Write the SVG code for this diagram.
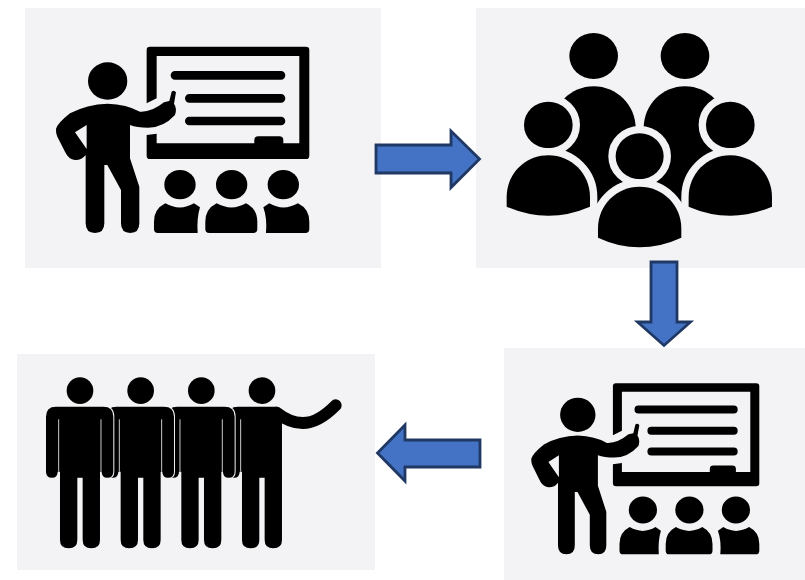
<svg xmlns="http://www.w3.org/2000/svg" xmlns:xlink="http://www.w3.org/1999/xlink" width="805" height="580" viewBox="0 0 805 580">
<style>
.panel{fill:#f3f3f5}
.ink{fill:#000}
.rule{stroke:#000;stroke-width:26;stroke-linecap:round;fill:none}
.halo{fill:#000;stroke:#f3f3f5;stroke-width:44;paint-order:stroke;stroke-linejoin:round}
.fig{fill:#000;stroke:#f3f3f5;stroke-width:6;paint-order:stroke}
.gap{stroke:#f3f3f5;stroke-width:2.5;fill:none}
.arrow{fill:#4472c4;stroke:#1f3864;stroke-width:2.8;stroke-linejoin:miter}
</style>
<defs>
<g id="teacher">
<path class="ink" d="M390 125H858Q868 125 868 135V452Q868 462 858 462H390Q380 462 380 452V390L410 386V415H703V405Q703 394 715 394H778Q790 394 790 405V415H838V153H410V280L380 295V135Q380 125 390 125Z"/>
<path class="rule" d="M465 211H783M508 280H783M508 348H783"/>
<ellipse class="ink" cx="263" cy="228" rx="59" ry="56"/>
<path class="ink" fill-rule="evenodd" d="M108 372Q112 355 150 325Q200 298 263 296Q320 298 360 320Q395 322 432 292L448 288L455 260Q462 254 468 262L462 296Q472 310 465 330Q430 368 385 368Q350 368 330 360V460L358 545V655Q358 684 331 684Q303 684 303 655V555L262 480H253V655Q253 684 225 684Q197 684 197 655V450Q185 466 165 465Q145 462 135 440L112 395Q107 383 108 372ZM200 360L165 382L200 432Z"/>
<ellipse class="ink" cx="480" cy="539" rx="47" ry="44"/>
<ellipse class="ink" cx="635" cy="539" rx="47" ry="44"/>
<ellipse class="ink" cx="790" cy="539" rx="47" ry="44"/>
<path class="ink" d="M402 672V650Q402 612 436 595Q480 620 522 595L540 607Q530 640 533 684H414Q402 684 402 672Z"/>
<path class="ink" d="M556 672V650Q556 612 590 595Q635 620 678 595Q712 612 712 650V672Q712 684 700 684H568Q556 684 556 672Z"/>
<path class="ink" d="M730 607L748 595Q790 620 834 595Q868 612 868 650V672Q868 684 856 684H738Q742 640 730 607Z"/>
</g>
<path id="dude" d="M138 170H280Q310 170 310 200V365Q310 383 292 383Q275 383 275 365H270V570Q270 595 244 595Q218 595 218 570V383H202V570Q202 595 176 595Q150 595 150 570V365H143Q143 383 126 383Q108 383 108 365V200Q108 170 138 170Z"/>
</defs>
<g id="node-lecture">
<rect class="panel" x="25" y="8" width="356" height="260"/>
<use xlink:href="#teacher" href="#teacher" transform="translate(20 5) scale(.3333)"/>
</g>
<g id="node-group">
<rect class="panel" x="476" y="8" width="329" height="260"/>
<g transform="translate(470 5) scale(.3333)">
<ellipse class="ink" cx="371" cy="153" rx="73" ry="69"/>
<ellipse class="ink" cx="645" cy="153" rx="73" ry="69"/>
<path class="ink" d="M246 600V370C246 300 302 244 371 244C440 244 497 300 497 370V600Z"/>
<path class="ink" d="M521 600V370C521 300 576 244 645 244C714 244 770 300 770 370V600Z"/>
<ellipse class="halo" cx="235" cy="360" rx="73" ry="70"/>
<ellipse class="halo" cx="781" cy="360" rx="73" ry="70"/>
<path class="halo" d="M110 605V576C110 506 166 451 235 451C304 451 360 506 360 576V605Q235 659 110 605Z"/>
<path class="halo" d="M656 605V576C656 506 712 451 781 451C850 451 906 506 906 576V605Q781 659 656 605Z"/>
<ellipse class="halo" cx="509" cy="454" rx="72" ry="69"/>
<path class="halo" d="M384 698V670C384 600 440 545 509 545C578 545 634 600 634 670V698Q508 756 384 698Z"/>
</g>
</g>
<g id="node-lecture-2">
<rect class="panel" x="504" y="348" width="301" height="232"/>
<use xlink:href="#teacher" href="#teacher" transform="translate(498.9 345) scale(.3 .306)"/>
</g>
<g id="node-team">
<rect class="panel" x="17" y="354" width="358" height="216"/>
<g transform="translate(10 350) scale(.3333)">
<circle class="ink" cx="210" cy="122" r="40"/>
<circle class="ink" cx="392" cy="122" r="40"/>
<circle class="ink" cx="574" cy="122" r="40"/>
<circle class="ink" cx="756" cy="122" r="40"/>
<path d="M800 188Q840 219 878 219Q925 219 977 166" fill="none" stroke="#000" stroke-width="36" stroke-linecap="round"/>
<path class="ink" d="M684 170H800Q816 172 816 200V570Q816 595 790 595Q764 595 764 570V383H748V570Q748 595 722 595Q696 595 696 570V365H689Q689 383 672 383Q654 383 654 365V200Q654 170 684 170Z"/>
<path class="gap" d="M692 208V365"/>
<use class="fig" xlink:href="#dude" href="#dude" x="364"/>
<path class="gap" d="M510 208V365M637 208V365"/>
<use class="fig" xlink:href="#dude" href="#dude" x="182"/>
<path class="gap" d="M328 208V365M455 208V365"/>
<use class="fig" xlink:href="#dude" href="#dude"/>
<path class="gap" d="M146 208V365M273 208V365"/>
</g>
</g>
<g id="connectors">
<polygon class="arrow" points="376,145 451,145 451,131 479.5,159 451,187.500 451,173 376,173"/>
<polygon class="arrow" points="651,262 677,262 677,322 690.500,322 664,345.500 637.500,322 651,322"/>
<polygon class="arrow" points="480,440 405,440 405,425 377.500,453 405,481 405,467 480,467"/>
</g>
</svg>
